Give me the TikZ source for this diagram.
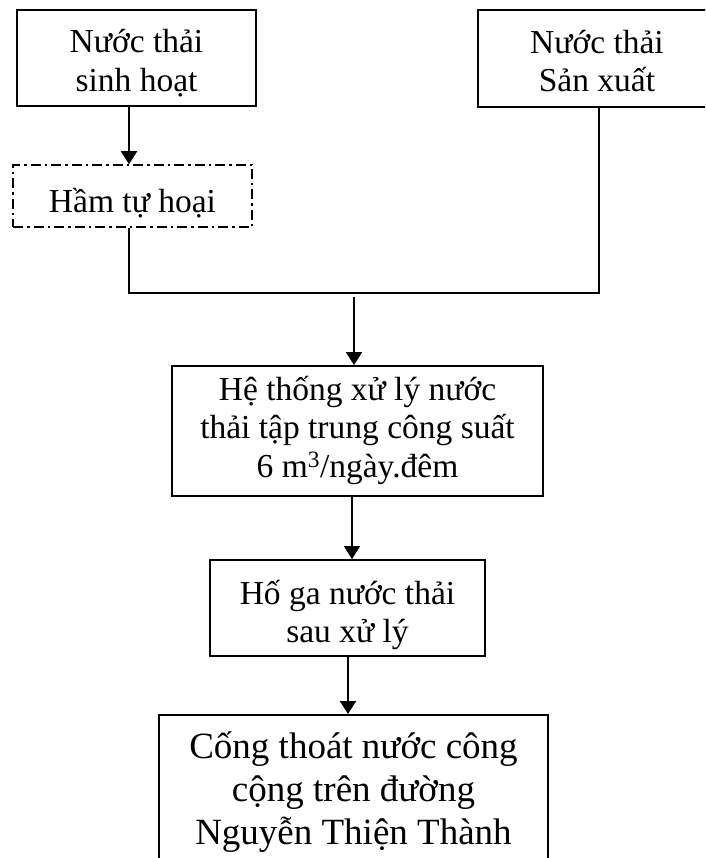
\documentclass[tikz,border=0pt]{standalone}
\usepackage{fontspec}
\setmainfont{Liberation Serif}
\usetikzlibrary{arrows.meta}
% invisible rules that fix the height of a first line and the depth of a last line
\newcommand\firstln{\rule{0pt}{30pt}}
\newcommand\lastln{\rule[-8pt]{0pt}{8pt}}
\newcommand\bigfirstln{\rule{0pt}{33pt}}
\newcommand\biglastln{\rule[-9pt]{0pt}{9pt}}
\begin{document}
\begin{tikzpicture}[x=1pt,y=-1pt,
  frame/.style={draw=black, line width=1.8pt, rectangle, inner sep=0pt},
  dashframe/.style={frame, line width=1.5pt, dash pattern=on 10pt off 4pt on 2.5pt off 4pt},
  txt/.style={align=center, inner sep=0pt, font=\fontsize{33.5}{38.5}\selectfont},
  bigtxt/.style={txt, font=\fontsize{37}{43}\selectfont},
  flow/.style={line width=1.8pt, -{Triangle[length=13pt,width=16pt]}},
  pipe/.style={line width=1.8pt}]
  \useasboundingbox (0,0) rectangle (705,858);
  \begin{scope}
  \clip (0,0) rectangle (705,858);
  % box frames
  \node[frame, minimum width=239pt, minimum height=96pt] (sh) at (136.5,58) {};
  \node[frame, minimum width=238pt, minimum height=97pt] (sx) at (597,58.5) {};
  \node[dashframe, minimum width=239pt, minimum height=62pt] (ham) at (132.5,196) {};
  \node[frame, minimum width=371pt, minimum height=130pt] (xl) at (357.5,431) {};
  \node[frame, minimum width=275pt, minimum height=96pt] (hg) at (347.5,608) {};
  \node[frame, minimum width=389pt, minimum height=164pt, anchor=north] (cong) at (353.5,714) {};
  % box texts
  \node[txt] (sh-t) at (136.5,61.25) {\firstln Nước thải\\sinh hoạt\lastln};
  \node[txt] (sx-t) at (597,61.5) {\firstln Nước thải\\Sản xuất\lastln};
  \node[txt] (ham-t) at (132.5,202) {\firstln Hầm tự hoại\lastln};
  \node[txt] (xl-t) at (357.5,427.5) {\firstln Hệ thống xử lý nước\\thải tập trung công suất\\6 m\textsuperscript{3}/ngày.đêm\lastln};
  \node[txt] (hg-t) at (347.5,612.25) {\firstln Hố ga nước thải\\sau xử lý\lastln};
  \node[bigtxt] (cong-t) at (353.5,789) {\bigfirstln Cống thoát nước công\\cộng trên đường\\Nguyễn Thiện Thành\biglastln};
  % junction points of the collecting pipe
  \coordinate (jl) at (129,293);
  \coordinate (jr) at (599,293);
  \coordinate (jm) at (354,297);
  % connectors
  \draw[flow] (129,0 |- sh.south) -- (129,0 |- ham.north);
  \draw[pipe] (129,0 |- ham.south) -- (jl) -- (jr) -- (599,0 |- sx.south);
  \draw[flow] (jm) -- (jm |- xl.north);
  \draw[flow] (352,0 |- xl.south) -- (352,0 |- hg.north);
  \draw[flow] (348,0 |- hg.south) -- (348,0 |- cong.north);
  \end{scope}
\end{tikzpicture}
\end{document}
